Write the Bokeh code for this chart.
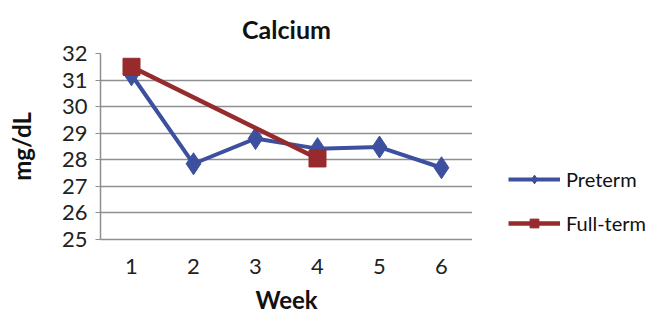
from bokeh.plotting import figure
from bokeh.layouts import row
from bokeh.models import FactorRange, Range1d, Legend, LegendItem, FixedTicker
from bokeh.embed import file_html
from bokeh.resources import INLINE

weeks = ["1", "2", "3", "4", "5", "6"]
preterm = [31.2, 27.85, 28.8, 28.42, 28.48, 27.7]
fullterm_weeks = ["1", "4"]
fullterm = [31.5, 28.05]
yticks = [25, 26, 27, 28, 29, 30, 31, 32]
series_names = ["Preterm", "Full-term"]

FONT = "Lato"
BLUE = "#3D4F9F"
RED = "#962A2D"
GRID = "#8f8f8f"
H = 316

p = figure(width=472, height=H, x_range=FactorRange(*weeks), y_range=Range1d(25, 32),
           output_backend="svg", toolbar_location=None,
           min_border_left=100, min_border_right=0, min_border_top=53, min_border_bottom=74,
           title="Calcium")
p.outline_line_color = None
p.background_fill_color = "white"
p.border_fill_color = "white"

p.title.align = "center"
p.title.text_font = FONT
p.title.text_font_size = "25px"
p.title.text_font_style = "bold"
p.title.text_color = "#111111"
p.title.standoff = 19

p.xgrid.grid_line_color = None
p.ygrid.grid_line_color = GRID
p.ygrid.grid_line_width = 1.5
p.yaxis.ticker = FixedTicker(ticks=yticks)

for ax in (p.xaxis[0], p.yaxis[0]):
    ax.axis_line_color = GRID
    ax.axis_line_width = 1.5
    ax.major_label_text_font = FONT
    ax.major_label_text_font_size = "22px"
    ax.major_label_text_color = "#222222"
    ax.axis_label_text_font = FONT
    ax.axis_label_text_font_size = "24px"
    ax.axis_label_text_font_style = "bold"
    ax.axis_label_text_color = "#111111"
    ax.minor_tick_line_color = None

p.xaxis.major_tick_line_color = None
p.xaxis.major_label_standoff = 13
p.xaxis.axis_label = "Week"
p.xaxis.axis_label_standoff = 8

p.yaxis.major_tick_line_color = GRID
p.yaxis.major_tick_in = 0
p.yaxis.major_tick_out = 5
p.yaxis.major_label_standoff = 8
p.yaxis.axis_label = "mg/dL"
p.yaxis.axis_label_standoff = 23

p.line(weeks, preterm, line_color=BLUE, line_width=4)
p.scatter(weeks, preterm, marker="diamond", size=22, fill_color=BLUE, line_color=BLUE)
p.line(fullterm_weeks, fullterm, line_color=RED, line_width=4.5)
p.scatter(fullterm_weeks, fullterm, marker="square", size=17, fill_color=RED, line_color=RED)

# legend panel to the right of the plot area (series drawn off-view, used only for legend glyphs)
q = figure(width=179, height=H, x_range=FactorRange(*weeks), y_range=Range1d(0, 1),
           output_backend="svg", toolbar_location=None, min_border=0,
           x_axis_location=None, y_axis_location=None)
q.outline_line_color = None
q.grid.visible = False
q.border_fill_color = "white"
ql1 = q.line(weeks, preterm, line_color=BLUE, line_width=4)
qm1 = q.scatter(weeks, preterm, marker="diamond", size=22, fill_color=BLUE, line_color=BLUE)
ql2 = q.line(fullterm_weeks, fullterm, line_color=RED, line_width=4.5)
qm2 = q.scatter(fullterm_weeks, fullterm, marker="square", size=17, fill_color=RED, line_color=RED)

legend = Legend(items=[LegendItem(label=series_names[0], renderers=[ql1, qm1]),
                       LegendItem(label=series_names[1], renderers=[ql2, qm2])],
                location=(36, 4), orientation="vertical")
legend.label_text_font = FONT
legend.label_text_font_size = "20px"
legend.label_text_color = "#111111"
legend.glyph_width = 52
legend.glyph_height = 22
legend.label_height = 22
legend.label_standoff = 6
legend.spacing = 20
legend.padding = 0
legend.margin = 0
legend.border_line_color = None
legend.background_fill_alpha = 0
q.add_layout(legend, "center")

layout = row(p, q, spacing=0)
open("out.html", "w").write(file_html(layout, INLINE))
